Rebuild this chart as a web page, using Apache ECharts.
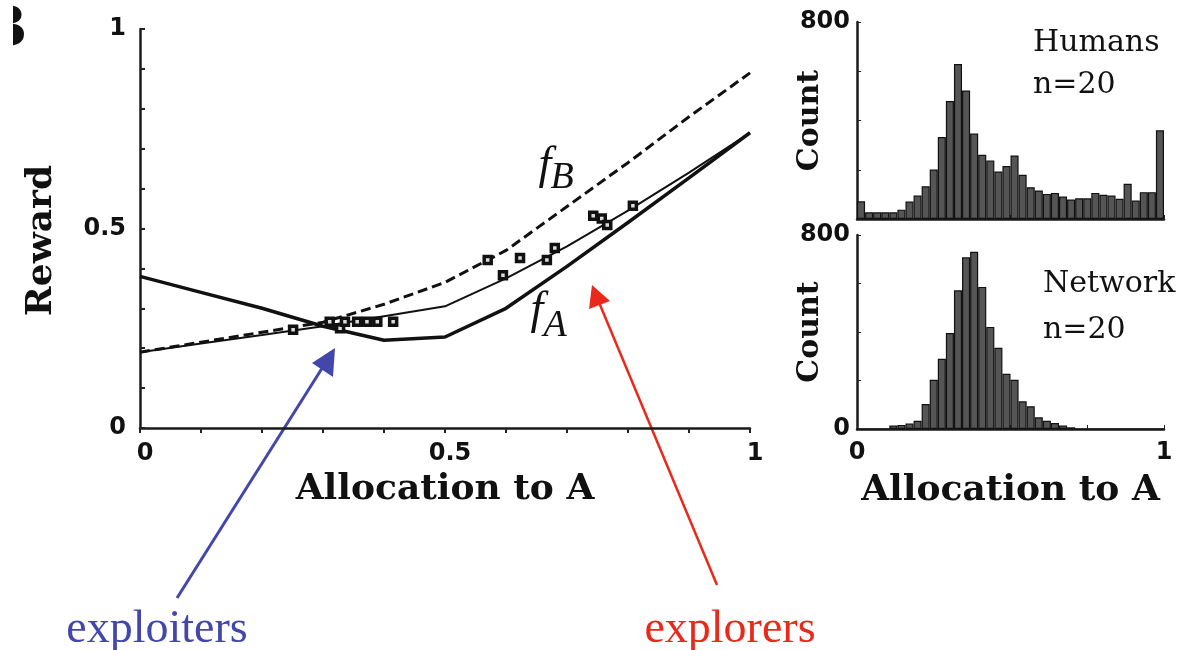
<!DOCTYPE html>
<html><head><meta charset="utf-8">
<script src="https://cdn.jsdelivr.net/npm/echarts@6/dist/echarts.min.js"></script>
<style>html,body{margin:0;padding:0;background:#fff}#c{width:1186px;height:650px}</style>
</head><body><div id="c"></div>
<script>
// ---- data ----
const curveX      = [0, 0.1, 0.2, 0.3, 0.4, 0.5, 0.6, 0.7, 0.8, 0.9, 1.0];
const rewardB     = [0.19, 0.215, 0.24, 0.265, 0.31, 0.365, 0.445, 0.555, 0.665, 0.78, 0.89];
const rewardMean  = [0.19, 0.212, 0.233, 0.255, 0.28, 0.305, 0.375, 0.455, 0.545, 0.64, 0.74];
const rewardA     = [0.38, 0.34, 0.30, 0.255, 0.22, 0.228, 0.30, 0.405, 0.515, 0.627, 0.74];
const humanAlloc  = [0.251, 0.311, 0.328, 0.336, 0.356, 0.372, 0.389, 0.415, 0.570, 0.595, 0.623, 0.667, 0.680, 0.743, 0.757, 0.766, 0.808];
const humanReward = [0.246, 0.266, 0.250, 0.266, 0.266, 0.266, 0.266, 0.266, 0.421, 0.383, 0.426, 0.421, 0.451, 0.532, 0.525, 0.509, 0.557];
const binCount = 38;
const humansCounts  = [72, 27, 27, 27, 27, 38, 71, 95, 133, 201, 333, 479, 629, 522, 347, 261, 238, 193, 215,
                       258, 180, 129, 116, 102, 106, 91, 79, 84, 84, 106, 98, 95, 82, 143, 75, 109, 109, 360];
const networkCounts = [0, 0, 0, 0, 14, 17, 23, 34, 103, 203, 290, 396, 572, 708, 731, 586, 421, 335, 228,
                       203, 114, 94, 48, 34, 25, 14, 7, 0, 0, 0, 0, 0, 0, 0, 0, 0, 0, 0];
const rewardTickLabels = ['0', '0.5', '1'];
const allocTickLabels  = ['0', '0.5', '1'];
const histXTickLabels  = ['0', '1'];
const countTickLabels  = ['0', '800'];

// ---- build ----
const bins = humansCounts.map((_, i) => (i / binCount).toFixed(3));
const zip = (xs, ys) => xs.map((x, i) => [x, ys[i]]);
const near = (v, s) => Math.abs(v - parseFloat(s)) < 1e-6;
const showIf = list => v => { const s = list.find(t => near(v, t)); return s === undefined ? '' : s; };

const tickFont = {fontFamily: 'DejaVu Sans', fontWeight: 'bold', fontSize: 24, color: '#111'};
const titleFont = {fontFamily: 'DejaVu Serif', fontWeight: 'bold', fontSize: 36, color: '#111'};
const axLine = {show: true, lineStyle: {color: '#1a1a1a', width: 2.5}};
const ink = '#111';

const chart = echarts.init(document.getElementById('c'), null, {renderer: 'canvas'});
chart.setOption({
  animation: false,
  backgroundColor: '#fff',
  grid: [
    {left: 140, top: 29, width: 610, height: 399},
    {left: 857, top: 22, width: 307, height: 197},
    {left: 857, top: 235, width: 307, height: 194}
  ],
  xAxis: [
    {gridIndex: 0, type: 'value', min: 0, max: 1, interval: 0.1, position: 'bottom',
     axisLine: axLine, axisTick: {show: true, length: 5, lineStyle: {color: '#222', width: 2}},
     splitLine: {show: false},
     axisLabel: Object.assign({formatter: showIf(allocTickLabels), margin: 14, padding: [0, 0, 0, 10]}, tickFont),
     name: 'Allocation to A', nameLocation: 'middle', nameGap: 44, nameMoveOverlap: false, nameTextStyle: titleFont},
    {gridIndex: 1, type: 'category', data: bins, show: false, position: 'top'},
    {gridIndex: 1, type: 'value', min: 0, max: 1, interval: 0.25, position: 'bottom',
     axisLine: axLine, axisTick: {show: true, inside: true, length: 4, lineStyle: {color: '#222'}},
     splitLine: {show: false}, axisLabel: {show: false}},
    {gridIndex: 2, type: 'category', data: bins, show: false, position: 'top'},
    {gridIndex: 2, type: 'value', min: 0, max: 1, interval: 0.25, position: 'bottom',
     axisLine: axLine, axisTick: {show: true, inside: true, length: 4, lineStyle: {color: '#222'}},
     splitLine: {show: false},
     axisLabel: Object.assign({formatter: showIf(histXTickLabels), margin: 12}, tickFont),
     name: 'Allocation to A', nameLocation: 'middle', nameGap: 44, nameMoveOverlap: false, nameTextStyle: titleFont}
  ],
  yAxis: [
    {gridIndex: 0, type: 'value', min: 0, max: 1, interval: 0.1,
     axisLine: axLine, axisTick: {show: true, inside: true, length: 5, lineStyle: {color: '#222', width: 2}},
     splitLine: {show: false},
     axisLabel: Object.assign({formatter: showIf(rewardTickLabels), margin: 14}, tickFont),
     name: 'Reward', nameLocation: 'middle', nameGap: 80, nameRotate: 90, nameMoveOverlap: false,
     nameTextStyle: Object.assign({padding: [0, 24, 0, 0]}, titleFont)},
    {gridIndex: 1, type: 'value', min: 0, max: 800, interval: 200,
     axisLine: axLine, axisTick: {show: true, inside: true, length: 4, lineStyle: {color: '#222'}},
     splitLine: {show: false},
     axisLabel: Object.assign({formatter: v => v === 800 ? '800' : '', margin: 7}, tickFont),
     name: 'Count', nameLocation: 'middle', nameGap: 32, nameRotate: 90, nameMoveOverlap: false,
     nameTextStyle: Object.assign({}, titleFont, {fontSize: 30})},
    {gridIndex: 2, type: 'value', min: 0, max: 800, interval: 200,
     axisLine: axLine, axisTick: {show: true, inside: true, length: 4, lineStyle: {color: '#222'}},
     splitLine: {show: false},
     axisLabel: Object.assign({formatter: v => (countTickLabels.includes(String(v)) ? String(v) : ''), margin: 7}, tickFont),
     name: 'Count', nameLocation: 'middle', nameGap: 32, nameRotate: 90, nameMoveOverlap: false,
     nameTextStyle: Object.assign({}, titleFont, {fontSize: 30})}
  ],
  series: [
    {type: 'line', xAxisIndex: 0, yAxisIndex: 0, data: zip(curveX, rewardB), symbol: 'none',
     lineStyle: {color: ink, width: 3, type: [10, 5]}, z: 3},
    {type: 'line', xAxisIndex: 0, yAxisIndex: 0, data: zip(curveX, rewardMean), symbol: 'none',
     lineStyle: {color: ink, width: 2}, z: 3},
    {type: 'line', xAxisIndex: 0, yAxisIndex: 0, data: zip(curveX, rewardA), symbol: 'none',
     lineStyle: {color: ink, width: 3.5}, z: 3},
    {type: 'scatter', xAxisIndex: 0, yAxisIndex: 0, data: zip(humanAlloc, humanReward),
     symbol: 'rect', symbolSize: 7, itemStyle: {color: '#ddd', borderColor: ink, borderWidth: 3.5, opacity: 1}, z: 4},
    {type: 'bar', xAxisIndex: 1, yAxisIndex: 1, data: humansCounts, barCategoryGap: '0%',
     itemStyle: {color: '#555', borderColor: ink, borderWidth: 1.2}},
    {type: 'bar', xAxisIndex: 3, yAxisIndex: 2, data: networkCounts, barCategoryGap: '0%',
     itemStyle: {color: '#555', borderColor: ink, borderWidth: 1.2}}
  ],
  graphic: [
    {type: 'text', x: 27, y: 31, z: 1, style: {text: 'B', font: 'bold 56px "DejaVu Serif"', fill: ink, align: 'right', verticalAlign: 'middle'}},
    {type: 'rect', shape: {x: 0, y: 0, width: 13, height: 60}, z: 2, style: {fill: '#fff'}},
    {type: 'text', x: 545, y: 166, style: {text: 'f', font: 'italic 46px "Liberation Serif"', fill: ink, align: 'center', verticalAlign: 'middle'}},
    {type: 'text', x: 562, y: 178, style: {text: 'B', font: 'italic 38px "Liberation Serif"', fill: ink, align: 'center', verticalAlign: 'middle'}},
    {type: 'text', x: 537, y: 311, style: {text: 'f', font: 'italic 46px "Liberation Serif"', fill: ink, align: 'center', verticalAlign: 'middle'}},
    {type: 'text', x: 555, y: 326, style: {text: 'A', font: 'italic 38px "Liberation Serif"', fill: ink, align: 'center', verticalAlign: 'middle'}},
    {type: 'text', x: 1033, y: 43, style: {text: 'Humans', font: '30px "DejaVu Serif"', fill: ink, align: 'left', verticalAlign: 'middle'}},
    {type: 'text', x: 1033, y: 85, style: {text: 'n=20', font: '30px "DejaVu Serif"', fill: ink, align: 'left', verticalAlign: 'middle'}},
    {type: 'text', x: 1043, y: 284, style: {text: 'Network', font: '30px "DejaVu Serif"', fill: ink, align: 'left', verticalAlign: 'middle'}},
    {type: 'text', x: 1043, y: 330, style: {text: 'n=20', font: '30px "DejaVu Serif"', fill: ink, align: 'left', verticalAlign: 'middle'}},
    // exploiters arrow
    {type: 'line', shape: {x1: 177, y1: 598, x2: 326, y2: 362}, style: {stroke: '#4347a9', lineWidth: 3}},
    {type: 'polygon', shape: {points: [[335, 348], [312, 363], [333, 377]]}, style: {fill: '#4347a9'}},
    {type: 'text', x: 157, y: 630, style: {text: 'exploiters', font: '46px "Liberation Serif"', fill: '#4347a9', align: 'center', verticalAlign: 'middle'}},
    // explorers arrow
    {type: 'line', shape: {x1: 717, y1: 585, x2: 598, y2: 300}, style: {stroke: '#e8291c', lineWidth: 2.5}},
    {type: 'polygon', shape: {points: [[592, 285], [589, 309], [610, 301]]}, style: {fill: '#e8291c'}},
    {type: 'text', x: 730, y: 630, style: {text: 'explorers', font: '46px "Liberation Serif"', fill: '#e8291c', align: 'center', verticalAlign: 'middle'}}
  ]
});
</script>
</body></html>
